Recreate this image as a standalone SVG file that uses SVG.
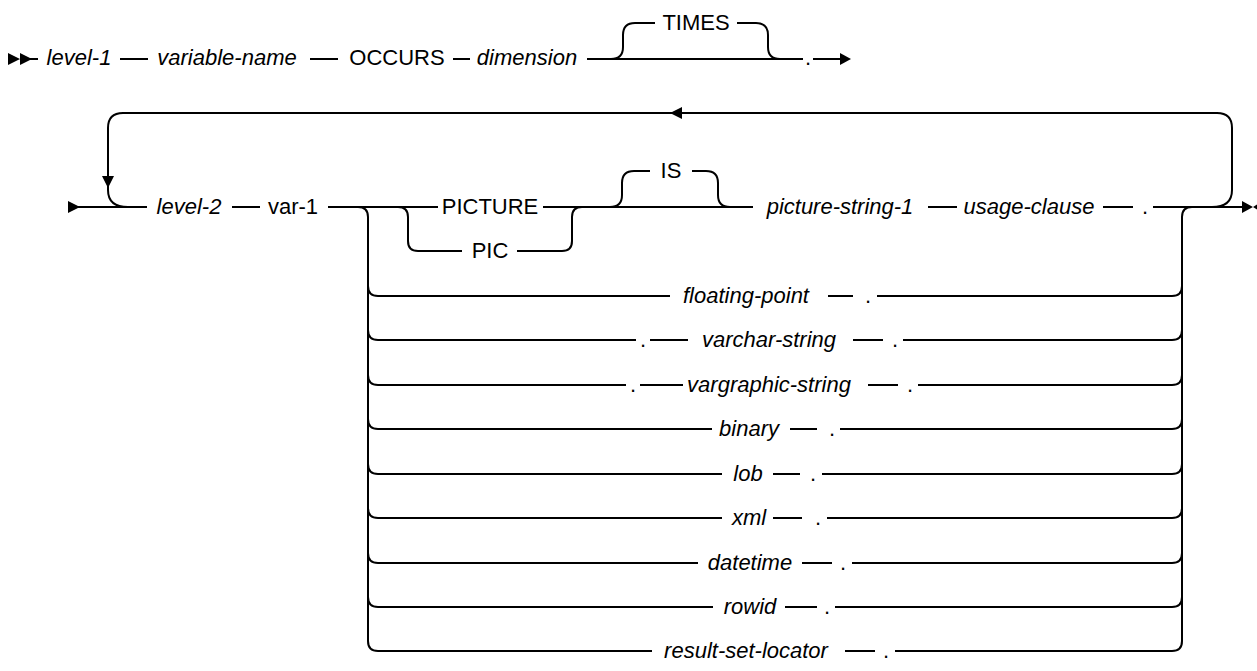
<svg xmlns="http://www.w3.org/2000/svg" width="1257" height="671" viewBox="0 0 1257 671">
<style>
.ln{fill:none;stroke:#000;stroke-width:2}
.ah{fill:#000;stroke:none}
text{font-family:"Liberation Sans",Arial,sans-serif;font-size:22px;fill:#000;text-anchor:middle}
.i{font-style:italic}
</style>
<rect width="1257" height="671" fill="#fff"/>
<g id="connectors">
<!-- top line -->
<path class="ah" d="M8,53 L20,59 L8,65 Z M20,53 L32,59 L20,65 Z"/>
<path class="ln" d="M30,59 H38 M120,59 H148 M310,59 H338 M453,59 H470 M587,59 H803 M813,59 H842"/>
<path class="ah" d="M840,53 L851,59 L840,65 Z"/>
<path class="ln" d="M611,59 Q623,59 623,47 V35 Q623,23 635,23 H655 M737,23 H756 Q768,23 768,35 V47 Q768,59 780,59"/>
<!-- second line -->
<path class="ah" d="M68,201 L80,207 L68,213 Z"/>
<path class="ln" d="M78,207 H147 M232,207 H260 M328,207 H438 M543,207 H753 M928,207 H957 M1103,207 H1133 M1153,207 H1244"/>
<path class="ah" d="M1242,201 L1253,207 L1242,213 Z M1263,201 L1253,207 L1263,213 Z"/>
<!-- loop -->
<path class="ln" d="M1212,207 Q1232,207 1232,190 V128 Q1232,113 1217,113 H123 Q108,113 108,128 V190 Q108,207 128,207"/>
<path class="ah" d="M670,113 L682,107 L682,119 Z M102,176 L114,176 L108,188 Z"/>
<!-- PICTURE / PIC -->
<path class="ln" d="M398,207 Q408,207 408,217 V241 Q408,251 418,251 H462 M517,251 H562 Q572,251 572,241 V217 Q572,207 582,207"/>
<!-- IS -->
<path class="ln" d="M610,207 Q622,207 622,195 V183 Q622,171 634,171 H650 M692,171 H706 Q718,171 718,183 V195 Q718,207 730,207"/>
<!-- choice left and right rails -->
<path class="ln" d="M358,207 Q368,207 368,217 V641 Q368,651 378,651"/>
<path class="ln" d="M1172,651 Q1182,651 1182,641 V217 Q1182,207 1192,207"/>
<path class="ln" d="M368,286 Q368,296 378,296 M368,330 Q368,340 378,340 M368,375 Q368,385 378,385 M368,419 Q368,429 378,429 M368,464 Q368,474 378,474 M368,508 Q368,518 378,518 M368,553 Q368,563 378,563 M368,597 Q368,607 378,607"/>
<path class="ln" d="M1172,296 Q1182,296 1182,286 M1172,340 Q1182,340 1182,330 M1172,385 Q1182,385 1182,375 M1172,429 Q1182,429 1182,419 M1172,474 Q1182,474 1182,464 M1172,518 Q1182,518 1182,508 M1172,563 Q1182,563 1182,553 M1172,607 Q1182,607 1182,597"/>
<!-- rows -->
<path class="ln" d="M378,296 H670 M828,296 H853 M877,296 H1172"/>
<path class="ln" d="M378,340 H636 M650,340 H688 M853,340 H883 M903,340 H1172"/>
<path class="ln" d="M378,385 H626 M640,385 H683 M868,385 H898 M918,385 H1172"/>
<path class="ln" d="M378,429 H712 M790,429 H817 M840,429 H1172"/>
<path class="ln" d="M378,474 H722 M773,474 H800 M822,474 H1172"/>
<path class="ln" d="M378,518 H722 M773,518 H802 M827,518 H1172"/>
<path class="ln" d="M378,563 H698 M802,563 H832 M852,563 H1172"/>
<path class="ln" d="M378,607 H713 M785,607 H817 M835,607 H1172"/>
<path class="ln" d="M378,651 H652 M845,651 H875 M895,651 H1172"/>
</g>
<g id="n-level-1"><text class="i" x="79" y="65">level-1</text></g>
<g id="n-variable-name"><text class="i" x="227" y="65">variable-name</text></g>
<g id="n-occurs"><text x="397" y="65">OCCURS</text></g>
<g id="n-dimension"><text class="i" x="527" y="65">dimension</text></g>
<g id="n-times"><text x="696" y="30">TIMES</text></g>
<g id="n-dot-top"><text x="808" y="65">.</text></g>
<g id="n-level-2"><text class="i" x="189" y="214">level-2</text></g>
<g id="n-var-1"><text x="293" y="214">var-1</text></g>
<g id="n-picture"><text x="490" y="214">PICTURE</text></g>
<g id="n-pic"><text x="490" y="258">PIC</text></g>
<g id="n-is"><text x="671" y="178">IS</text></g>
<g id="n-picture-string-1"><text class="i" x="840" y="214">picture-string-1</text></g>
<g id="n-usage-clause"><text class="i" x="1029" y="214">usage-clause</text></g>
<g id="n-dot-1"><text x="1145" y="214">.</text></g>
<g id="n-floating-point"><text class="i" x="746" y="303">floating-point</text><text x="868" y="303">.</text></g>
<g id="n-varchar-string"><text x="643" y="347">.</text><text class="i" x="769" y="347">varchar-string</text><text x="895" y="347">.</text></g>
<g id="n-vargraphic-string"><text x="633" y="392">.</text><text class="i" x="769" y="392">vargraphic-string</text><text x="910" y="392">.</text></g>
<g id="n-binary"><text class="i" x="749" y="436">binary</text><text x="832" y="436">.</text></g>
<g id="n-lob"><text class="i" x="748" y="481">lob</text><text x="813" y="481">.</text></g>
<g id="n-xml"><text class="i" x="749" y="525">xml</text><text x="818" y="525">.</text></g>
<g id="n-datetime"><text class="i" x="750" y="570">datetime</text><text x="843" y="570">.</text></g>
<g id="n-rowid"><text class="i" x="750" y="614">rowid</text><text x="827" y="614">.</text></g>
<g id="n-result-set-locator"><text class="i" x="746" y="658">result-set-locator</text><text x="886" y="658">.</text></g>
</svg>
